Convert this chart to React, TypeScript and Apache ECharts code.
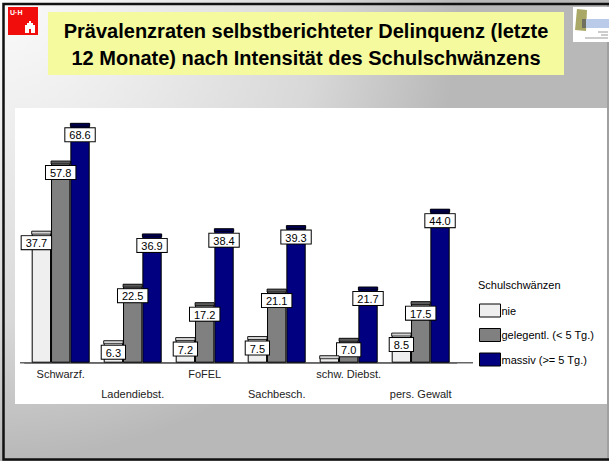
import React, { useEffect, useRef } from 'react';
import * as echarts from 'echarts';

const categories = ['Schwarzf.', 'Ladendiebst.', 'FoFEL', 'Sachbesch.', 'schw. Diebst.', 'pers. Gewalt'];
const seriesNames = ['nie', 'gelegentl. (< 5 Tg.)', 'massiv (>= 5 Tg.)'];
const nieValues = [37.7, 6.3, 7.2, 7.5, 2.0, 8.5];
const gelegentlValues = [57.8, 22.5, 17.2, 21.1, 7.0, 17.5];
const massivValues = [68.6, 36.9, 38.4, 39.3, 21.7, 44.0];
const titleLines = [
  'Prävalenzraten selbstberichteter Delinquenz (letzte',
  '12 Monate) nach Intensität des Schulschwänzens',
];
const legendTitle = 'Schulschwänzen';

const FONT = '"Liberation Sans", Arial, sans-serif';
const GAP = 14 / 72;

export default function App() {
  const ref = useRef<HTMLDivElement>(null);
  useEffect(() => {
    if (!ref.current) return;
    const chart = echarts.init(ref.current, undefined, { renderer: 'svg' });

    const allValues = [nieValues, gelegentlValues, massivValues];
    const colors = ['#efefef', '#808080', '#000080'];
    const capColors = ['#d4d4d4', '#5c5c5c', '#00004e'];

    const barSeries = allValues.map((vals, s) => ({
      name: seriesNames[s],
      type: 'bar',
      barGap: '0%',
      barCategoryGap: (GAP * 100).toFixed(2) + '%',
      itemStyle: { color: colors[s], borderColor: '#000', borderWidth: 1 },
      z: 2,
      data: vals.map((v, i) => {
        if (s === 0 && i === 4) return { value: v, label: { show: false } };
        if (s === 0 && i === 0) return { value: v, label: { offset: [-5, 0] } };
        return v;
      }),
      label: {
        show: true,
        position: 'insideTop',
        distance: 5,
        color: '#000',
        fontSize: 11,
        fontFamily: FONT,
        backgroundColor: '#fff',
        borderColor: '#000',
        borderWidth: 1,
        padding: [1, 4, 0, 4],
        lineHeight: 12,
        formatter: (p: any) => Number(p.value).toFixed(1),
      },
    }));

    const capSeries = allValues.map((vals, s) => ({
      type: 'custom',
      silent: true,
      z: 3,
      data: vals.map((v, i) => [i, v]),
      renderItem: (_params: any, api: any) => {
        const c = api.value(0);
        const v = api.value(1);
        const top = api.coord([c, v]);
        const band = api.size([1, 0])[0];
        const bw = (band * (1 - GAP)) / 3;
        const x0 = top[0] - 1.5 * bw + s * bw;
        return {
          type: 'rect',
          shape: { x: x0, y: top[1], width: bw, height: 3 },
          style: { fill: capColors[s], stroke: '#000', lineWidth: 0.8 },
        };
      },
    }));

    const option: any = {
      animation: false,
      title: {
        text: legendTitle,
        left: 478,
        top: 279,
        padding: 0,
        textStyle: { fontSize: 11, fontWeight: 'normal', color: '#000', fontFamily: FONT },
      },
      legend: {
        orient: 'vertical',
        left: 479,
        top: 303.5,
        padding: 0,
        itemWidth: 21,
        itemHeight: 13,
        itemGap: 10.5,
        icon: 'rect',
        itemStyle: { borderColor: '#000', borderWidth: 1 },
        textStyle: { fontSize: 11, color: '#000', fontFamily: FONT, padding: [0, 0, 0, -4] },
        data: seriesNames,
      },
      grid: { left: 24.7, right: 152.3, top: 118.4, bottom: 98.3, containLabel: false },
      xAxis: {
        type: 'category',
        data: categories,
        axisLine: { show: true, lineStyle: { color: '#666', width: 1.5 } },
        axisTick: { show: false },
        axisLabel: {
          interval: 0,
          margin: 1,
          lineHeight: 20,
          fontSize: 11,
          color: '#222',
          fontFamily: FONT,
          formatter: (val: string, idx: number) => (idx % 2 === 1 ? '\n' + val : val),
        },
      },
      yAxis: { type: 'value', min: 0, max: 70, show: false, splitLine: { show: false } },
      graphic: [
        {
          type: 'rect',
          z: -10,
          shape: { x: 0, y: 0, width: 609, height: 461 },
          style: {
            fill: new echarts.graphic.RadialGradient(0, 0, 460, [
              { offset: 0, color: '#fbfbfb' },
              { offset: 0.25, color: '#efefef' },
              { offset: 0.7, color: '#d8d8d8' },
              { offset: 1, color: '#b8b8b8' },
            ], true),
          },
        },
        {
          type: 'rect',
          z: -9,
          shape: { x: 15, y: 108, width: 592, height: 296 },
          style: { fill: '#ffffff' },
        },
        {
          type: 'line',
          z: -8,
          shape: { x1: 608, y1: 4, x2: 608, y2: 460 },
          style: { stroke: '#888', lineWidth: 1 },
        },
        {
          type: 'rect',
          z: -8,
          shape: { x: 3.5, y: 4, width: 612, height: 455.5 },
          style: { fill: 'none', stroke: '#111', lineWidth: 2.5 },
        },
        {
          type: 'line',
          z: 1,
          shape: { x1: 20, y1: 362.7, x2: 473, y2: 362.7 },
          style: { stroke: '#666', lineWidth: 1.5 },
        },
        // UHH logo
        {
          type: 'rect',
          z: -7,
          shape: { x: 8, y: 7, width: 30, height: 28 },
          style: { fill: '#f20d0d' },
        },
        {
          type: 'text',
          z: -6,
          x: 10,
          y: 9,
          style: { text: 'U·H', fill: '#fff', font: 'bold 7px ' + FONT },
        },
        {
          type: 'polygon',
          z: -6,
          shape: {
            points: [[25, 33], [25, 25], [27, 25], [27, 23], [29, 23], [29, 21], [31, 21], [31, 23], [33, 23], [33, 25], [35, 25], [35, 33]],
          },
          style: { fill: '#fff' },
        },
        {
          type: 'rect',
          z: -5,
          shape: { x: 29, y: 29, width: 2, height: 4 },
          style: { fill: '#f20d0d' },
        },
        // title box
        {
          type: 'rect',
          z: -7,
          shape: { x: 48, y: 12, width: 516, height: 63 },
          style: { fill: '#f5fa9f' },
        },
        {
          type: 'text',
          z: -6,
          x: 306,
          y: 30.5,
          style: {
            text: titleLines[0],
            fill: '#000',
            font: 'bold 20px ' + FONT,
            textAlign: 'center',
            textVerticalAlign: 'middle',
          },
        },
        {
          type: 'text',
          z: -6,
          x: 306,
          y: 58,
          style: {
            text: titleLines[1],
            fill: '#000',
            font: 'bold 20px ' + FONT,
            textAlign: 'center',
            textVerticalAlign: 'middle',
          },
        },
        // right logo
        {
          type: 'rect',
          z: -7,
          shape: { x: 573, y: 7, width: 36, height: 35 },
          style: { fill: '#fff' },
        },
        {
          type: 'polygon',
          z: -6,
          shape: { points: [[577, 9], [587, 10], [586, 31], [575, 30]] },
          style: { fill: '#aaa866' },
        },
        {
          type: 'rect',
          z: -6,
          shape: { x: 582, y: 19, width: 27, height: 9 },
          style: { fill: '#b9cbe9' },
        },
        {
          type: 'rect',
          z: -5,
          shape: { x: 582, y: 19, width: 4, height: 9 },
          style: { fill: '#707060' },
        },
        {
          type: 'line',
          z: -5,
          shape: { x1: 598, y1: 32, x2: 608, y2: 32 },
          style: { stroke: '#999', lineWidth: 1 },
        },
        {
          type: 'line',
          z: -5,
          shape: { x1: 601, y1: 35, x2: 608, y2: 35 },
          style: { stroke: '#999', lineWidth: 1 },
        },
        {
          type: 'line',
          z: -5,
          shape: { x1: 585, y1: 38, x2: 608, y2: 38 },
          style: { stroke: '#999', lineWidth: 1 },
        },
      ],
      series: [...barSeries, ...capSeries],
    };

    chart.setOption(option);
    return () => chart.dispose();
  }, []);

  return (
    <div
      ref={ref}
      style={{ position: 'absolute', left: 0, top: 0, width: 609, height: 461 }}
    />
  );
}
